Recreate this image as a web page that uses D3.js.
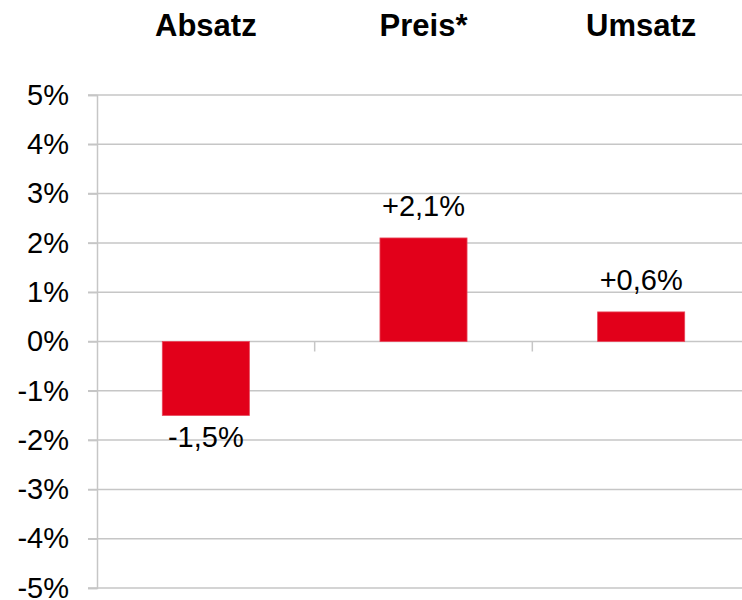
<!DOCTYPE html>
<html>
<head>
<meta charset="utf-8">
<script src="https://cdn.jsdelivr.net/npm/d3@7"></script>
<style>
  body { margin: 0; background: #fff; }
  svg { display: block; font-family: "Liberation Sans", Arial, sans-serif; }
</style>
</head>
<body>
<svg id="chart" width="742" height="600"></svg>
<script>
var categories = ["Absatz", "Preis*", "Umsatz"];
var values = [-1.5, 2.1, 0.6];
var yTicks = [-5, -4, -3, -2, -1, 0, 1, 2, 3, 4, 5];

var svg = d3.select("#chart"),
    plotLeft = 97, plotRight = 750, plotTop = 95, plotBottom = 588;

var x = d3.scaleBand().domain(categories).range([plotLeft, plotRight]).padding(0);
var y = d3.scaleLinear().domain([-5, 5]).range([plotBottom, plotTop]);

var gridColor = "#c6c6c6";

// gridlines
svg.append("g")
  .selectAll("line")
  .data(yTicks)
  .enter().append("line")
    .attr("x1", plotLeft - 9)
    .attr("x2", 742)
    .attr("y1", function(d) { return y(d); })
    .attr("y2", function(d) { return y(d); })
    .attr("stroke", gridColor)
    .attr("stroke-width", 1.5);

// y axis
var yAxis = svg.append("g")
  .attr("transform", "translate(" + plotLeft + ",0)")
  .call(d3.axisLeft(y).tickValues(yTicks).tickSize(9).tickPadding(19)
    .tickFormat(function(d) { return (d < 0 ? "-" + Math.abs(d) : d) + "%"; }));
yAxis.select(".domain").attr("stroke", gridColor).attr("stroke-width", 1.5);
yAxis.selectAll(".tick line").attr("stroke", gridColor).attr("stroke-width", 1.5);
yAxis.selectAll(".tick text")
  .attr("fill", "#000")
  .style("font-size", "29px")
  .style("font-family", "'Liberation Sans', Arial, sans-serif");

// category separator ticks on the zero line
svg.append("g")
  .selectAll("line")
  .data(categories.slice(1))
  .enter().append("line")
    .attr("x1", function(d) { return x(d); })
    .attr("x2", function(d) { return x(d); })
    .attr("y1", y(0))
    .attr("y2", y(0) + 10)
    .attr("stroke", gridColor)
    .attr("stroke-width", 1.5);

var bw = x.bandwidth() * 0.4;

svg.append("g")
  .selectAll("rect")
  .data(values)
  .enter().append("rect")
    .attr("x", function(d, i) { return x(categories[i]) + (x.bandwidth() - bw) / 2; })
    .attr("width", bw)
    .attr("y", function(d) { return y(Math.max(0, d)); })
    .attr("height", function(d) { return Math.abs(y(d) - y(0)); })
    .attr("fill", "#e2001a")
    .attr("stroke", "#e8475a")
    .attr("stroke-width", 0.8);

function fmt(v) {
  return (v > 0 ? "+" : "-") + Math.abs(v).toFixed(1).replace(".", ",") + "%";
}

svg.append("g")
  .selectAll("text")
  .data(values)
  .enter().append("text")
    .attr("x", function(d, i) { return x(categories[i]) + x.bandwidth() / 2; })
    .attr("y", function(d) { return d >= 0 ? y(d) - 22 : y(d) + 32; })
    .attr("text-anchor", "middle")
    .style("font-size", "29px")
    .attr("fill", "#000")
    .text(fmt);

// headers above each column
svg.append("g")
  .selectAll("text")
  .data(categories)
  .enter().append("text")
    .attr("x", function(d) { return x(d) + x.bandwidth() / 2; })
    .attr("y", 36)
    .attr("text-anchor", "middle")
    .style("font-size", "31px")
    .style("font-weight", "bold")
    .attr("fill", "#000")
    .text(function(d) { return d; });
</script>
</body>
</html>
